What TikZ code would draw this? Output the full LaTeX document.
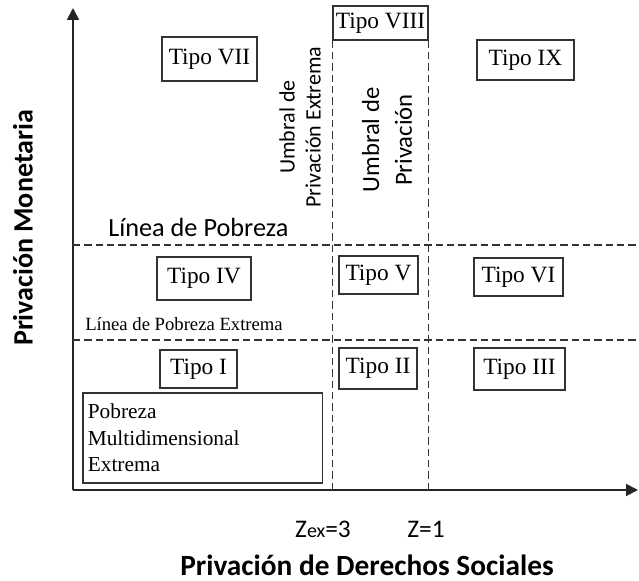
\documentclass[tikz,border=0pt]{standalone}
\usepackage{fontspec}
\setmainfont{Liberation Serif}
\setsansfont{Carlito}
\usetikzlibrary{positioning,arrows.meta}

\begin{document}
\begin{tikzpicture}[
    x=0.75pt, y=-0.75pt,
    axis/.style={draw=black!85, line width=1.4pt, -{Triangle[length=9pt, width=9pt]}},
    umbral/.style={draw=black!80, line width=1.2pt, dash pattern=on 5.5pt off 3pt},
    tipo/.style 2 args={draw=black!80, line width=1pt, inner sep=0pt,
        minimum width=#1*0.75pt, minimum height=#2*0.75pt,
        font=\fontsize{17.5}{19}\selectfont},
    rotlabel/.style 2 args={rotate=90, align=center, font=\sffamily\fontsize{#1}{#2}\selectfont}
]

% Frame of the picture
\useasboundingbox (0,0) rectangle (639,581);

% Axes
\coordinate (O) at (73,490);
\coordinate (ytop) at (73,8);
\coordinate (xend) at (638,490);
\draw[axis] (O) -- (ytop);
\draw[axis] (O) -- (xend);

% Boxes of the nine types
\node[tipo={95}{44}] (t7) at (209.5,59) {Tipo VII};
\node[tipo={95}{34}] (t8) at (380.5,23) {Tipo VIII};
\node[tipo={97}{40}] (t9) at (525.5,60) {Tipo IX};
\node[tipo={94}{43}] (t4) at (204,278.5) {Tipo IV};
\node[tipo={79}{38}] (t5) at (378.5,275) {Tipo V};
\node[tipo={89}{38}] (t6) at (518.5,277) {Tipo VI};
\node[tipo={77}{38}] (t1) at (198.5,369) {Tipo I};
\node[tipo={78}{41}] (t2) at (378,368.5) {Tipo II};
\node[tipo={91}{42}] (t3) at (519.5,369) {Tipo III};

% Extreme multidimensional poverty
\node[draw=black!80, line width=1pt, inner sep=3.75pt, text width=172pt,
      minimum height=67.5pt, align=left, font=\fontsize{16}{20}\selectfont]
      (pme) at (202.5,438) {Pobreza\\Multidimensional\\Extrema};

% Thresholds of deprivation
\draw[umbral] (t8.south west) -- (t8.south west |- O);
\draw[umbral] (t8.south east) -- (t8.south east |- O);

% Poverty lines
\coordinate (lp) at (73,245);
\coordinate (lpe) at (73,340);
\draw[umbral] (lp) -- (lp -| xend);
\draw[umbral] (lpe) -- (lpe -| xend);

% Labels of the lines
\node[anchor=base west, inner sep=0pt, font=\sffamily\fontsize{19.7}{22}\selectfont]
      (lpLabel) at (108,237) {Línea de Pobreza};
\node[anchor=base west, inner sep=0pt, font=\fontsize{14}{16}\selectfont]
      (lpeLabel) at (85,330) {Línea de Pobreza Extrema};
\node[rotlabel={16.5}{19.5}] (uExt) at (300,127) {Umbral de\\Privación Extrema};
\node[rotlabel={18.5}{24.5}] (uPriv) at (387,140) {Umbral de\\Privación};

% Values on the horizontal axis
\node[anchor=base, inner sep=0pt, font=\sffamily\fontsize{19}{21}\selectfont]
      (zex) at (323,537) {Z{\fontsize{15}{17}\selectfont ex}=3};
\node[anchor=base, inner sep=0pt, font=\sffamily\fontsize{19}{21}\selectfont]
      (z) at (426,537) {Z=1};

% Axis titles
\node[anchor=base, inner sep=0pt, font=\sffamily\bfseries\fontsize{22}{24}\selectfont]
      (xTitle) at (367,575) {Privación de Derechos Sociales};
\node[rotate=90, inner sep=0pt, font=\sffamily\bfseries\fontsize{21}{24}\selectfont]
      (yTitle) at (23,228) {Privación Monetaria};

\end{tikzpicture}
\end{document}
